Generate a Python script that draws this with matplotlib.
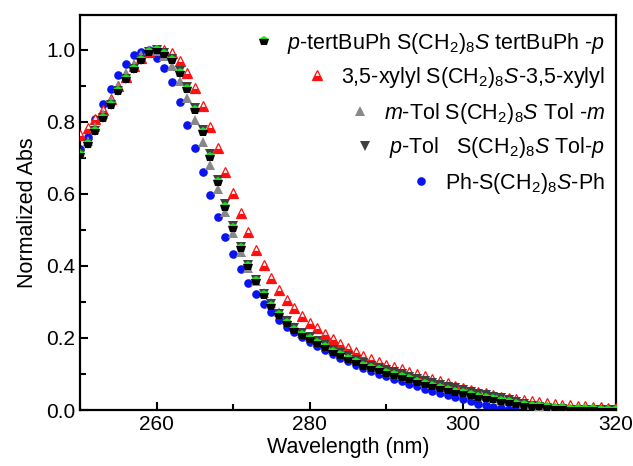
import matplotlib
matplotlib.use("Agg")
import matplotlib.pyplot as plt
from matplotlib.ticker import MultipleLocator, FixedLocator
import numpy as np

wavelength = list(range(250, 321))

tertbuph = [0.708, 0.739, 0.776, 0.812, 0.847, 0.887, 0.918, 0.946, 0.972, 0.993,
            1.000, 0.989, 0.971, 0.937, 0.891, 0.833, 0.771, 0.704, 0.633, 0.565,
            0.505, 0.449, 0.400, 0.357, 0.319, 0.289, 0.264, 0.243, 0.222, 0.208,
            0.198, 0.186, 0.174, 0.162, 0.153, 0.142, 0.132, 0.123, 0.116, 0.111,
            0.104, 0.097, 0.091, 0.085, 0.079, 0.073, 0.066, 0.061, 0.056, 0.051,
            0.047, 0.042, 0.037, 0.033, 0.030, 0.025, 0.021, 0.018, 0.015, 0.012,
            0.010, 0.008, 0.006, 0.005, 0.004, 0.003, 0.002, 0.002, 0.001, 0.001,
            0.001]

xylyl = [0.764, 0.782, 0.808, 0.833, 0.864, 0.900, 0.926, 0.954, 0.977, 0.993,
         1.000, 1.000, 0.991, 0.968, 0.935, 0.894, 0.843, 0.787, 0.727, 0.662,
         0.602, 0.546, 0.493, 0.444, 0.403, 0.366, 0.333, 0.306, 0.282, 0.261,
         0.242, 0.227, 0.211, 0.197, 0.184, 0.172, 0.160, 0.150, 0.141, 0.134,
         0.126, 0.119, 0.113, 0.106, 0.101, 0.094, 0.087, 0.080, 0.074, 0.068,
         0.062, 0.056, 0.051, 0.046, 0.042, 0.037, 0.034, 0.030, 0.028, 0.025,
         0.021, 0.019, 0.016, 0.015, 0.013, 0.011, 0.010, 0.008, 0.007, 0.006,
         0.005]

mtol = [0.715, 0.748, 0.785, 0.822, 0.860, 0.900, 0.935, 0.962, 0.985, 1.000,
        0.998, 0.982, 0.955, 0.915, 0.866, 0.806, 0.745, 0.680, 0.613, 0.550,
        0.492, 0.440, 0.395, 0.358, 0.325, 0.296, 0.271, 0.250, 0.230, 0.215,
        0.204, 0.192, 0.180, 0.168, 0.159, 0.148, 0.138, 0.129, 0.122, 0.117,
        0.110, 0.103, 0.097, 0.091, 0.085, 0.079, 0.073, 0.067, 0.062, 0.057,
        0.052, 0.047, 0.042, 0.038, 0.034, 0.029, 0.025, 0.021, 0.017, 0.013,
        0.010, 0.008, 0.006, 0.004, 0.003, 0.002, 0.002, 0.001, 0.001, 0.001,
        0.000]

ptol = [0.708, 0.739, 0.776, 0.812, 0.847, 0.887, 0.918, 0.946, 0.972, 0.993,
        1.000, 0.991, 0.974, 0.942, 0.897, 0.840, 0.778, 0.711, 0.640, 0.571,
        0.510, 0.454, 0.404, 0.361, 0.323, 0.293, 0.268, 0.247, 0.227, 0.213,
        0.203, 0.191, 0.180, 0.168, 0.159, 0.149, 0.139, 0.130, 0.123, 0.118,
        0.112, 0.105, 0.099, 0.093, 0.087, 0.081, 0.075, 0.070, 0.065, 0.060,
        0.055, 0.050, 0.045, 0.041, 0.037, 0.032, 0.027, 0.022, 0.017, 0.012,
        0.008, 0.005, 0.003, 0.002, 0.001, 0.000, 0.000, 0.000, 0.000, 0.000,
        0.000]

phenyl = [0.725, 0.759, 0.808, 0.850, 0.891, 0.931, 0.961, 0.986, 0.995, 1.000,
          0.977, 0.949, 0.912, 0.854, 0.792, 0.728, 0.661, 0.598, 0.537, 0.481,
          0.433, 0.391, 0.353, 0.321, 0.294, 0.271, 0.250, 0.231, 0.217, 0.203,
          0.190, 0.178, 0.166, 0.155, 0.145, 0.135, 0.125, 0.116, 0.108, 0.101,
          0.094, 0.087, 0.080, 0.073, 0.066, 0.059, 0.053, 0.047, 0.041, 0.036,
          0.030, 0.024, 0.018, 0.013, 0.009, 0.005, 0.002, 0.000, 0.000, 0.000,
          0.000, 0.000, 0.000, 0.000, 0.000, 0.000, 0.000, 0.000, 0.000, 0.000,
          0.000]

labels = [
    r"$p$-tertBuPh S(CH$_2$)$_8S$ tertBuPh -$p$",
    r"3,5-xylyl S(CH$_2$)$_8S$-3,5-xylyl",
    r"$m$-Tol S(CH$_2$)$_8S$ Tol -$m$",
    r"$p$-Tol   S(CH$_2$)$_8S$ Tol-$p$",
    r"Ph-S(CH$_2$)$_8S$-Ph",
]

plt.rcParams['font.family'] = ['Liberation Sans', 'DejaVu Sans']
plt.rcParams['mathtext.fontset'] = 'custom'
plt.rcParams['mathtext.rm'] = 'Liberation Sans'
plt.rcParams['mathtext.it'] = 'Liberation Sans:italic'
plt.rcParams['mathtext.bf'] = 'Liberation Sans:bold'

fig = plt.figure(figsize=(6.33, 4.66), dpi=100)
ax = fig.add_axes([80/633, 1-410/466, 536/633, 395/466])

x = np.array(wavelength)
h_ph, = ax.plot(x, phenyl, 'o', color='#0a14f0', ms=6.2, mew=0, zorder=2)
h_xy, = ax.plot(x, xylyl, '^', ms=7, mec='#ff1010', mfc='#ff1010', mfcalt='white',
                fillstyle='bottom', mew=0.9, zorder=3)
h_mt, = ax.plot(x, mtol, '^', color='#888888', ms=7.5, mew=0, zorder=4)
h_pt, = ax.plot(x, ptol, 'v', color='#404040', ms=7.5, mew=0, zorder=5)
h_tb, = ax.plot(x, tertbuph, 'p', ms=7.5, mfc='#18e018', mfcalt='black',
                fillstyle='top', mew=0, zorder=6)

ax.set_xlim(250, 320)
ax.set_ylim(0, 1.097)
ax.xaxis.set_major_locator(FixedLocator([260, 280, 300, 320]))
ax.xaxis.set_minor_locator(MultipleLocator(10))
ax.yaxis.set_major_locator(MultipleLocator(0.2))
ax.yaxis.set_minor_locator(MultipleLocator(0.1))
ax.yaxis.set_major_formatter(matplotlib.ticker.FormatStrFormatter('%.1f'))
ax.tick_params(which='both', direction='in', top=False, right=False, width=1.5,
               labelsize=15)
ax.tick_params(which='major', length=6)
ax.tick_params(which='minor', length=4)
for s in ax.spines.values():
    s.set_linewidth(1.6)

ax.set_xlabel('Wavelength (nm)', fontsize=15.5, labelpad=2)
ax.set_ylabel('Normalized Abs', fontsize=15.5, labelpad=6)

handles = [h_tb, h_xy, h_mt, h_pt, h_ph]
ys = [43, 77, 113, 148, 183]
for h, lab, yy in zip(handles, labels, ys):
    leg = fig.legend(handles=[h], labels=[lab], loc='center right',
                     bbox_to_anchor=(605/633, 1-yy/466), frameon=False,
                     fontsize=15.5, handlelength=0.6, handletextpad=0.8,
                     borderpad=0, borderaxespad=0, numpoints=1)

fig.savefig('out.png', dpi=100)
